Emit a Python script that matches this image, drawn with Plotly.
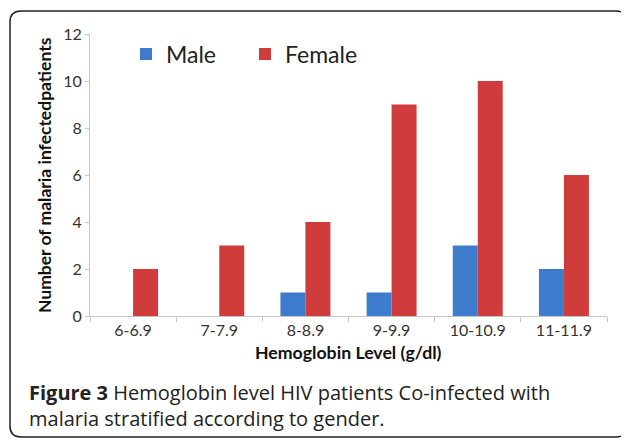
# Hemoglobin level by gender, grouped bar chart with caption.

import plotly.graph_objects as go

hb_levels = ["6-6.9", "7-7.9", "8-8.9", "9-9.9", "10-10.9", "11-11.9"]
male_counts = [0, 0, 1, 1, 3, 2]
female_counts = [2, 3, 4, 9, 10, 6]
y_ticks = [0, 2, 4, 6, 8, 10, 12]

# page is shown with an 8px body margin, so the figure is 8px smaller
OFF = 8
W, H = 629 - OFF, 438 - OFF
L, R, T, B = 90 - OFF, 22, 34 - OFF, 122
PW, PH = W - L - R, H - T - B


def px_x(x):
    # page pixel -> paper x
    return (x - OFF - L) / PW


def px_y(y):
    # page pixel -> paper y
    return (H - B - (y - OFF)) / PH


fig = go.Figure()
fig.add_trace(go.Bar(x=hb_levels, y=male_counts, name="Male",
                     marker=dict(color="#3d7bcc", line=dict(width=0))))
fig.add_trace(go.Bar(x=hb_levels, y=female_counts, name="Female",
                     marker=dict(color="#d03c3c", line=dict(width=0))))

# rounded frame around the figure
x0, x1, y0, y1 = px_x(10), px_x(627), px_y(437), px_y(11)
rx, ry = 11 / PW, 11 / PH
path = (f"M {x0},{y0 + ry} L {x0},{y1 - ry} Q {x0},{y1} {x0 + rx},{y1} "
        f"L {x1 - rx},{y1} Q {x1},{y1} {x1},{y1 - ry} L {x1},{y0 + ry} "
        f"Q {x1},{y0} {x1 - rx},{y0} L {x0 + rx},{y0} Q {x0},{y0} {x0},{y0 + ry} Z")
fig.add_shape(type="path", path=path, xref="paper", yref="paper",
              line=dict(color="#222222", width=1.5))

fig.add_annotation(text="<b>Number of malaria infectedpatients</b>", textangle=-90,
                   x=px_x(44), y=px_y(175), xref="paper", yref="paper", showarrow=False,
                   xanchor="center", yanchor="middle",
                   font=dict(family="Lato", size=17.5, color="#111111"))
fig.add_annotation(text="<b>Hemoglobin Level (g/dl)</b>",
                   x=0.5, y=px_y(352), xref="paper", yref="paper", showarrow=False,
                   xanchor="center", yanchor="middle",
                   font=dict(family="Lato", size=17.7, color="#111111"))
fig.add_annotation(text="<b>Figure 3</b> Hemoglobin level HIV patients Co-infected with<br>"
                        "malaria stratified according to gender.",
                   x=px_x(27), y=px_y(405.5), xref="paper", yref="paper", showarrow=False,
                   xanchor="left", yanchor="middle", align="left",
                   font=dict(family="Open Sans", size=20, color="#222222"))

fig.update_layout(
    width=W, height=H,
    margin=dict(l=L, r=R, t=T, b=B),
    paper_bgcolor="white", plot_bgcolor="white",
    barmode="group", bargap=0.42, bargroupgap=0,
    font=dict(family="Lato", size=16, color="#333333"),
    legend=dict(orientation="h", x=px_x(126), y=px_y(54), xanchor="left", yanchor="middle",
                font=dict(family="Lato", size=23, color="#222222"),
                bgcolor="rgba(0,0,0,0)", entrywidth=74, itemwidth=30),
    xaxis=dict(showline=True, linecolor="#c8c8c8", linewidth=1, ticks="outside",
               tickson="boundaries", ticklen=5, tickcolor="#c8c8c8", showgrid=False),
    yaxis=dict(range=[0, 12], tickvals=y_ticks, showline=True, linecolor="#c8c8c8",
               linewidth=1, ticks="outside", ticklen=4, tickcolor="#c8c8c8",
               showgrid=False, zeroline=False),
)

fig.write_html("out.html")
